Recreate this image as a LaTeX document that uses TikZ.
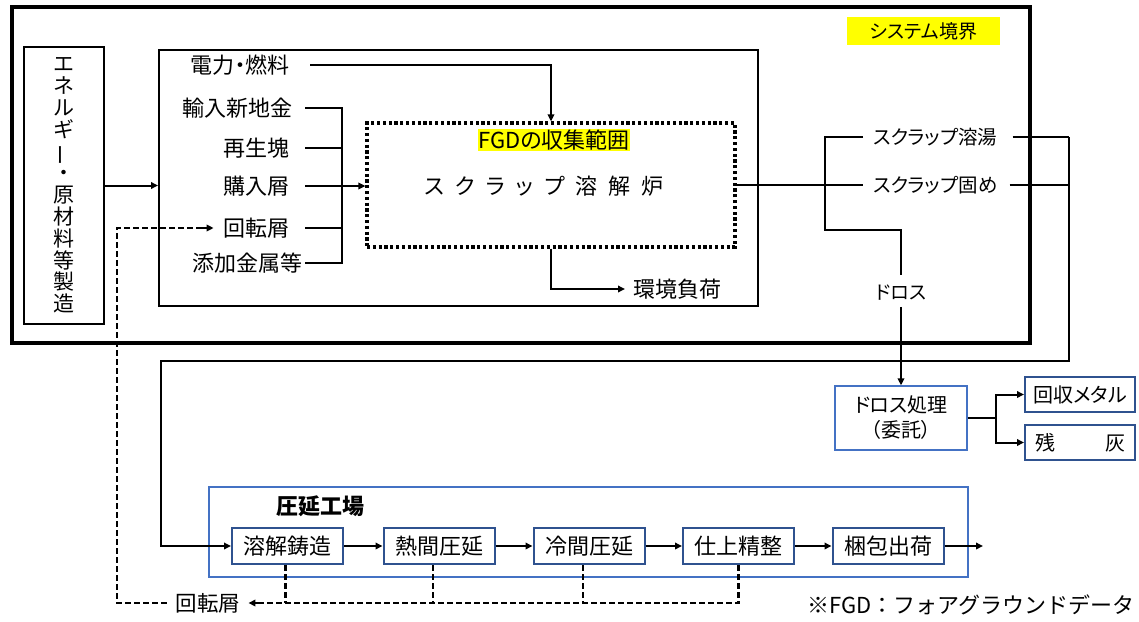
\documentclass[tikz,border=0pt]{standalone}
\usepackage{fontspec}
\usepackage{graphicx}
\setmainfont{Noto Sans CJK JP}[RawFeature=+palt]
\newfontfamily\widefont{Noto Sans CJK JP}
\usetikzlibrary{arrows.meta,calc}
\definecolor{bdark}{HTML}{2F528F}
\definecolor{blite}{HTML}{4472C4}
\definecolor{hl}{HTML}{FFFF00}
\newcommand{\kk}{\hspace{11pt}}
\newcommand{\fs}[1]{\fontsize{#1}{#1}\selectfont}
\begin{document}
\begin{tikzpicture}[x=1pt,y=-1pt, font=\fs{22},
 ln/.style={line width=2pt},
 arr/.style={ln,-{Triangle[length=7pt,width=6.5pt]}},
 dsh/.style={line width=2.1pt, dash pattern=on 6pt off 3pt},
 lbl/.style={inner sep=0pt},
 pbox/.style={draw=bdark,line width=2pt,fill=white,minimum width=111pt,minimum height=36pt,inner sep=0pt},
 sbox/.style={draw=bdark,line width=2pt,fill=white,minimum width=110pt,minimum height=35pt,inner sep=0pt,font=\fs{20}},
 ]
\useasboundingbox (0,0) rectangle (1139,621);

% system boundary
\draw[line width=3.5pt] (12,7) rectangle (1030,343);
\node[fill=hl, minimum width=153pt, minimum height=28pt, inner sep=0pt, font=\fs{19}] (sysb) at (923.5,31) {システム境界};

% energy box
\node[draw, line width=2.5pt, minimum width=80pt, minimum height=277pt, align=center, inner sep=0pt,
      font=\fontsize{21}{21.8}\selectfont] (energy) at (64,185.5)
 {エ\\ネ\\ル\\ギ\\\rotatebox[origin=c]{90}{ー}\\・\\原\\材\\料\\等\\製\\造};

% plant box
\node[draw, line width=2pt, minimum width=599pt, minimum height=256pt] (plant) at (458.5,178) {};
\draw[arr] (energy.east) -- (energy.east -| plant.west);

% furnace
\node[draw, line width=3.2pt, dash pattern=on 3.2pt off 2.6pt, minimum width=368pt, minimum height=124pt] (furnace) at (551,185) {};
\node[fill=hl, inner sep=0.5pt] (fgd) at (554,140) {FGDの収集範囲};
\node (fname) at (544,186) {ス\kk ク\kk ラ\kk ッ\kk プ\kk 溶\kk 解\kk 炉};

% input labels
\node[lbl,anchor=east] (elec) at (290,65) {電力・燃料};
\node[lbl,anchor=east] (imp) at (293,108) {輸入新地金};
\node[lbl,anchor=east] (regen) at (290,148) {再生塊};
\node[lbl,anchor=east] (buy) at (290,186) {購入屑};
\node[lbl,anchor=east] (rot) at (290,228) {回転屑};
\node[lbl,anchor=east] (add) at (303,263) {添加金属等};
\node[lbl,anchor=west] (env) at (633,289) {環境負荷};

\draw[arr] ([xshift=20pt]elec.east) -| (furnace.north);
\coordinate (bb) at (342,263);
\draw[ln] ([xshift=12pt]imp.east) -| (bb) -- ([xshift=2pt]add.east);
\draw[ln] ([xshift=15pt]regen.east) -- (regen.east -| bb);
\draw[ln] ([xshift=15pt]rot.east) -- (rot.east -| bb);
\draw[arr] ([xshift=15pt]buy.east) -- (buy.east -| furnace.west);
\draw[arr] (furnace.south) |- ([xshift=-8pt]env.west);

% outputs
\node[lbl,anchor=west,font=\fs{19.5}] (yuto) at (873,137) {スクラップ溶湯};
\node[lbl,anchor=west,font=\fs{19.5}] (kata) at (873,185) {スクラップ固め};
\draw[ln] (furnace.east) -- ([xshift=-10pt]kata.west);
\coordinate (bl) at (825,230);
\node[lbl,font=\fs{19}] (dross) at (901,293) {ドロス};
\draw[ln] ([xshift=-10pt]yuto.west) -| (bl) -| ([yshift=10pt]dross.north);
\node[draw=blite, line width=1.3pt, fill=white, minimum width=132pt, minimum height=64pt, align=center, inner sep=0pt,
      font=\fontsize{20}{25}\selectfont] (dbox) at (901,418) {ドロス処理\\（委託）};
\draw[arr] ([yshift=-6pt]dross.south) -- (dbox.north);
\node[sbox] (metal) at (1080,394.5) {回収メタル};
\node[sbox] (ash) at (1080,442.5) {残\hspace{50pt}灰\hspace{16pt}};
\coordinate (dj) at (996,418);
\draw[ln] (dbox.east) -- (dj);
\draw[arr] (dj) |- (metal.west);
\draw[arr] (dj) |- (ash.west);

% rolling mill
\draw[blite, line width=1.2pt] (209,487) rectangle (968,577);
\node[font=\fs{22}\bfseries] (mill) at (320,506) {圧延工場};
\node[pbox] (melt) at (287.5,546) {溶解鋳造};
\node[pbox] (hot) at (439,546) {熱間圧延};
\node[pbox] (cold) at (589,546) {冷間圧延};
\node[pbox] (fin) at (738.5,546) {仕上精整};
\node[pbox] (pack) at (888,546) {梱包出荷};
\coordinate (out) at (983,546);
\draw[arr] (melt) -- (hot);
\draw[arr] (hot) -- (cold);
\draw[arr] (cold) -- (fin);
\draw[arr] (fin) -- (pack);
\draw[arr] (pack) -- (out);

% return line
\coordinate (rj) at (1069,137);
\coordinate (cl) at (161,361);
\draw[ln] ([xshift=15pt]yuto.east) -- (rj);
\draw[ln] ([xshift=12pt]kata.east) -- (kata.east -| rj);
\draw[arr] (rj) |- (cl) |- (melt.west);

% scrap return (dashed)
\node[lbl,font=\fs{21.5}] (rot2) at (208,603) {回転屑};
\coordinate (t2) at ([xshift=8pt]rot2.east);
\coordinate (t1) at ([xshift=-10pt]rot.west);
\draw[dsh] (fin.south) |- ([xshift=12pt]t2);
\draw[arr] ([xshift=14pt]t2) -- (t2);
\draw[dsh] ([xshift=-2pt]melt.south) -- ([xshift=-2pt]melt.south |- rot2.east);
\draw[dsh] ([xshift=-6pt]hot.south) -- ([xshift=-6pt]hot.south |- rot2.east);
\draw[dsh] ([xshift=-6pt]cold.south) -- ([xshift=-6pt]cold.south |- rot2.east);
\coordinate (dc) at (117,603);
\draw[dsh] ([xshift=-9pt]rot2.west) -- (dc) |- ([xshift=-12pt]t1);
\draw[arr] ([xshift=-14pt]t1) -- (t1);

% note
\node[lbl, anchor=east, font=\widefont\fs{22}] (note) at (1135,605) {※FGD：フォアグラウンドデータ};
\end{tikzpicture}
\end{document}
